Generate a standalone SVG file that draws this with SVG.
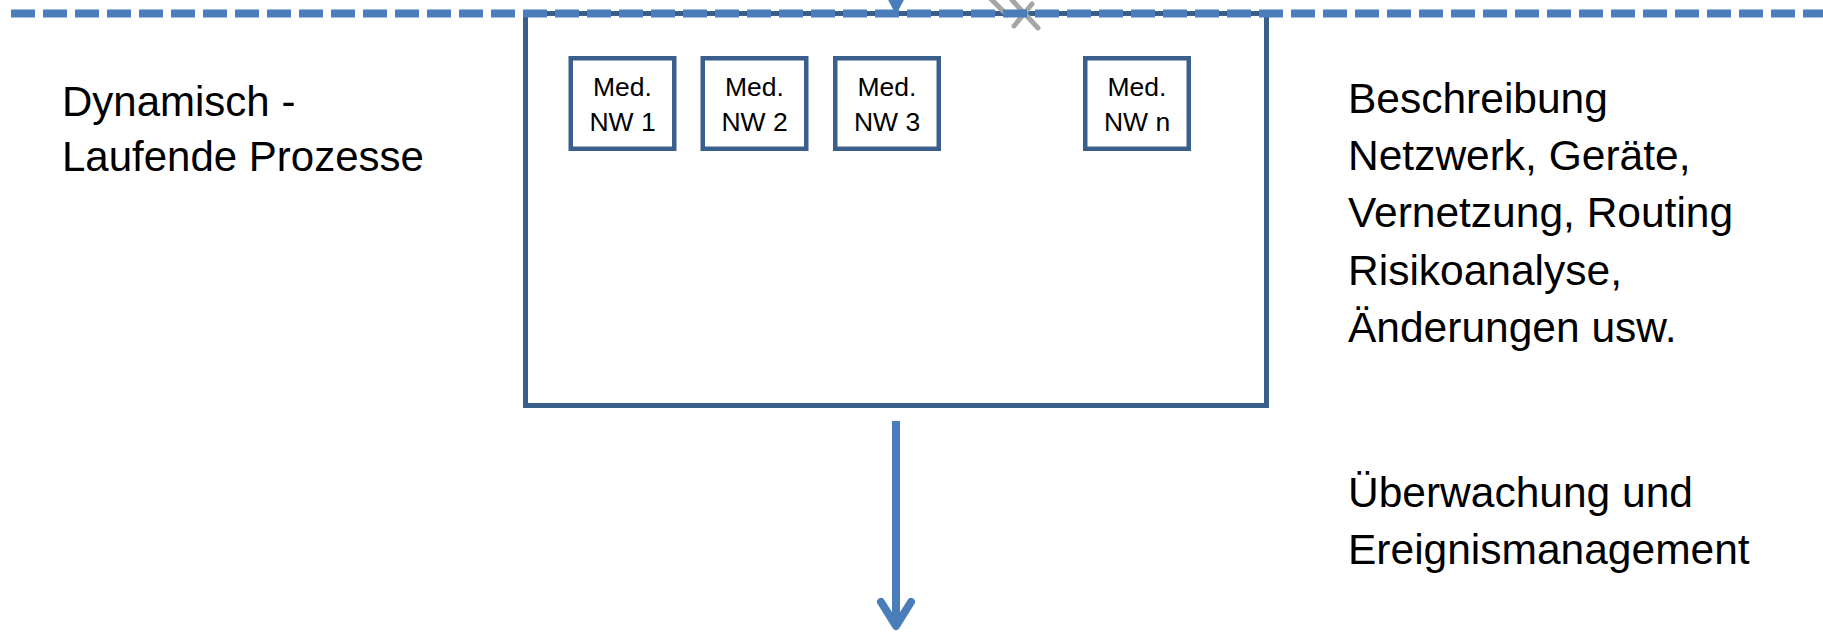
<svg xmlns="http://www.w3.org/2000/svg" width="1823" height="632" viewBox="0 0 1823 632">
  <defs>
    <style>
      .frame { fill: #ffffff; stroke: #3a5f8c; stroke-width: 5; }
      .nw { fill: #ffffff; stroke: #3a5f8c; stroke-width: 4.5; }
      .nw-label { font-family: "Liberation Sans", Arial, sans-serif; font-size: 26.5px; fill: #000000; text-anchor: middle; }
      .label { font-family: "Liberation Sans", Arial, sans-serif; font-size: 42.5px; fill: #000000; }
      .flow { fill: none; stroke: #4a7ebb; stroke-width: 8; }
      .mark { fill: none; stroke: #a6a6a6; stroke-width: 5; stroke-linecap: round; }
    </style>
  </defs>
  <rect width="1823" height="632" fill="#ffffff"/>

  <!-- outer container -->
  <g id="container">
    <rect class="frame" x="525.5" y="13.5" width="741" height="392"/>
  </g>

  <!-- media network boxes -->
  <g id="nw1">
    <rect class="nw" x="570.75" y="58.25" width="103.5" height="90.5"/>
    <text class="nw-label" x="622.5" y="96">Med.</text>
    <text class="nw-label" x="622.5" y="131">NW 1</text>
  </g>
  <g id="nw2">
    <rect class="nw" x="702.75" y="58.25" width="103.5" height="90.5"/>
    <text class="nw-label" x="754.5" y="96">Med.</text>
    <text class="nw-label" x="754.5" y="131">NW 2</text>
  </g>
  <g id="nw3">
    <rect class="nw" x="835.25" y="58.25" width="103.5" height="90.5"/>
    <text class="nw-label" x="887" y="96">Med.</text>
    <text class="nw-label" x="887" y="131">NW 3</text>
  </g>
  <g id="nwn">
    <rect class="nw" x="1085.25" y="58.25" width="103.5" height="90.5"/>
    <text class="nw-label" x="1137" y="96">Med.</text>
    <text class="nw-label" x="1137" y="131">NW n</text>
  </g>

  <!-- side descriptions -->
  <g id="left-text">
    <text class="label" x="62" y="116" style="font-size:42px">Dynamisch -</text>
    <text class="label" x="62" y="171" style="font-size:42px">Laufende Prozesse</text>
  </g>
  <g id="right-text">
    <text class="label" x="1348" y="113">Beschreibung</text>
    <text class="label" x="1348" y="170">Netzwerk, Geräte,</text>
    <text class="label" x="1348" y="227">Vernetzung, Routing</text>
    <text class="label" x="1348" y="285">Risikoanalyse,</text>
    <text class="label" x="1348" y="342">Änderungen usw.</text>
    <text class="label" x="1348" y="507">Überwachung und</text>
    <text class="label" x="1348" y="564">Ereignismanagement</text>
  </g>

  <!-- grey mark at the top edge -->
  <g id="mark">
    <path class="mark" d="M990 -2 L1007 15 M1012 0 L1038 28 M1032 4 L1014 26"/>
  </g>

  <!-- connectors -->
  <g id="connectors">
    <line x1="11" y1="13.5" x2="1823" y2="13.5" stroke="#4a7ebb" stroke-width="8" stroke-dasharray="24 8"/>
    <polygon points="885,-6 907,-6 896,15" fill="#4a7ebb"/>
    <line class="flow" x1="896" y1="421" x2="896" y2="626"/>
    <polyline class="flow" points="881,602 896,626 911,602" stroke-linecap="round" stroke-linejoin="round"/>
  </g>
</svg>
